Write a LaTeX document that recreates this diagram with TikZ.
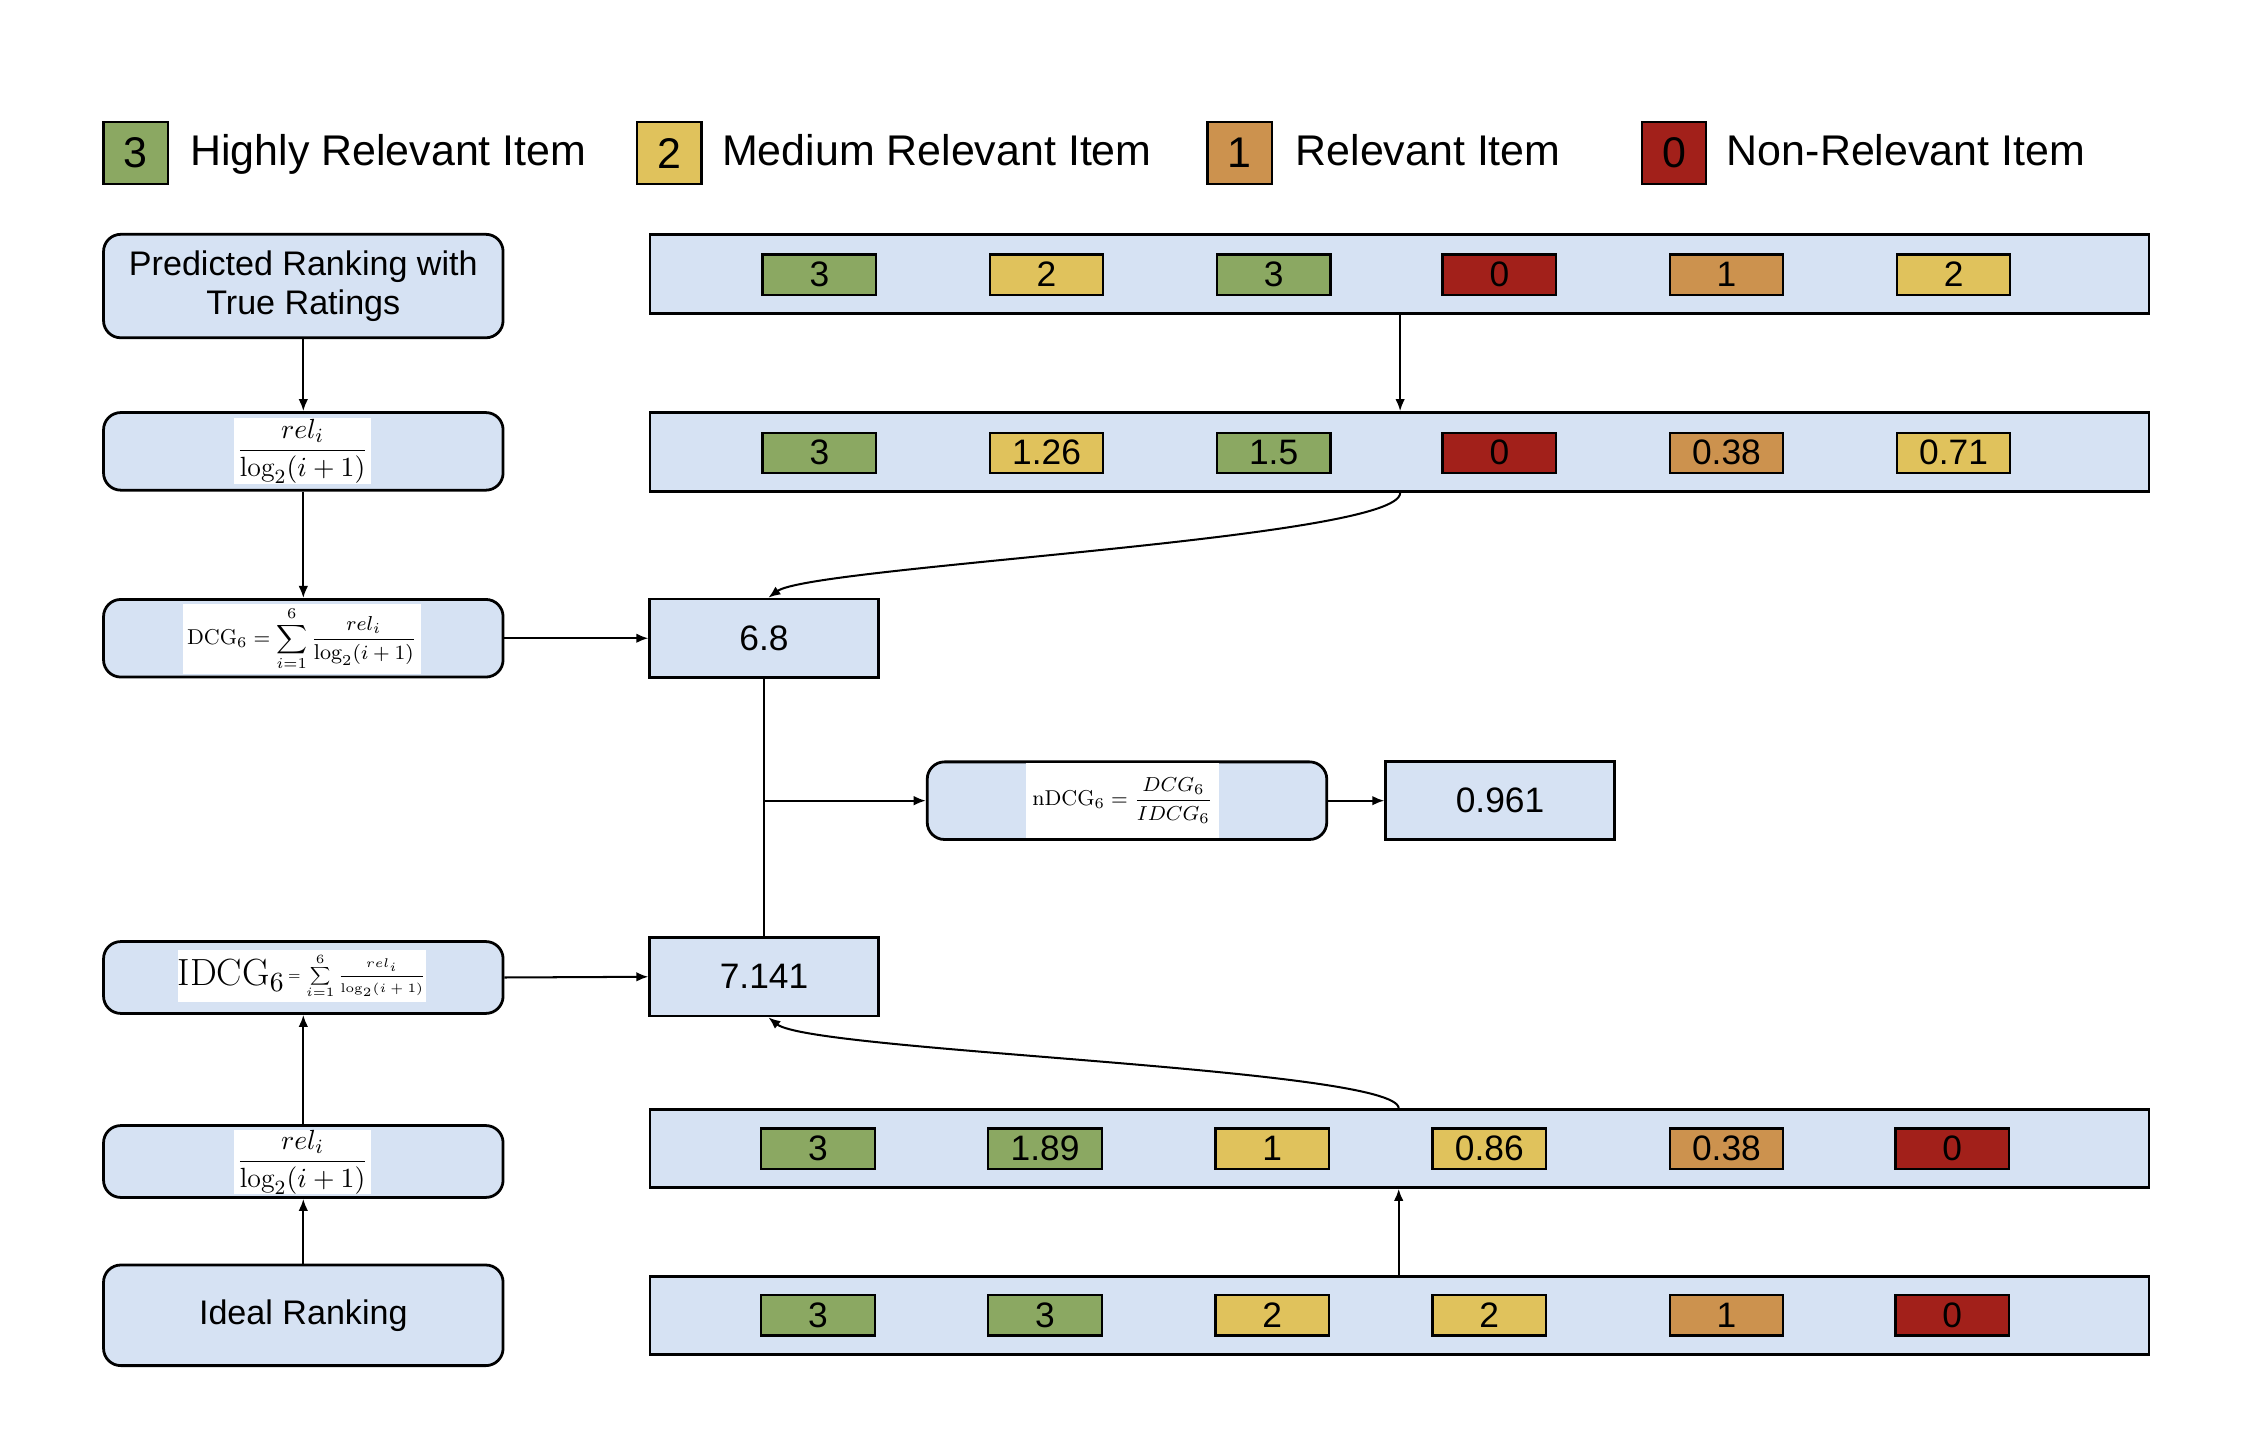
\documentclass[tikz,border=0pt]{standalone}
\usepackage{amsmath}
\usepackage{fontspec}
\setsansfont{Liberation Sans}
\usetikzlibrary{arrows.meta,calc}
\definecolor{boxblue}{HTML}{D6E2F3}
\definecolor{cgreen}{HTML}{8BA862}
\definecolor{cyellow}{HTML}{E0C25C}
\definecolor{corange}{HTML}{CC924E}
\definecolor{cred}{HTML}{A2201A}
\begin{document}
\begin{tikzpicture}[x=0.02cm,y=-0.02cm,font=\sffamily,
  lbox/.style={draw,line width=1.1pt,fill=boxblue,rounded corners=0.24cm,minimum width=5.56cm,align=center,inner sep=0pt,font=\sffamily\fontsize{13.5}{15.5}\selectfont},
  rowbox/.style={draw,line width=1.1pt,fill=boxblue,minimum width=20.86cm,minimum height=1.1cm,inner sep=0pt},
  valbox/.style={draw,line width=1.1pt,fill=boxblue,minimum width=3.18cm,minimum height=1.09cm,inner sep=0pt,font=\sffamily\fontsize{14}{16}\selectfont},
  cell/.style={draw,line width=0.9pt,minimum width=1.58cm,minimum height=0.56cm,inner sep=0pt,font=\sffamily\fontsize{14}{16}\selectfont},
  legbox/.style={draw,line width=0.9pt,minimum width=0.9cm,minimum height=0.86cm,inner sep=0pt,font=\sffamily\fontsize{17}{19}\selectfont},
  legtext/.style={anchor=base west,inner sep=0pt,font=\sffamily\fontsize{17}{19}\selectfont},
  formula/.style={fill=white,inner sep=0pt},
  arr/.style={-{Latex[length=4.8pt,width=3.8pt]},line width=0.8pt},
  conn/.style={line width=0.8pt}]
\useasboundingbox (0,0) rectangle (1568,999);

% legend
\node[legbox,fill=cgreen]  (lg3) at (94.5,106.5) {3};
\node[legtext] (lt3) at (132,115) {Highly Relevant Item};
\node[legbox,fill=cyellow] (lg2) at (465.5,106.5) {2};
\node[legtext] (lt2) at (502,115) {Medium Relevant Item};
\node[legbox,fill=corange] (lg1) at (862.5,106.5) {1};
\node[legtext] (lt1) at (901,115) {Relevant Item};
\node[legbox,fill=cred]    (lg0) at (1164.5,106.5) {0};
\node[legtext] (lt0) at (1201,115) {Non-Relevant Item};

% left column
\node[lbox,minimum height=1.44cm] (pred) at (211,199) {Predicted Ranking with\\True Ratings};
\node[lbox,minimum height=1.08cm] (rel1) at (211,314) {};
\node[formula,minimum width=1.9cm,minimum height=0.92cm] (f1) at (210.5,314) {\fontsize{11}{13}\selectfont$\dfrac{rel_i}{\log_2(i+1)}$};
\node[lbox,minimum height=1.08cm] (dcg) at (211,444) {};
\node[formula,minimum width=3.32cm,minimum height=0.98cm] (f2) at (210,444.5) {\fontsize{8.5}{10}\selectfont$\mathrm{DCG}_6=\displaystyle\sum_{i=1}^{6}\frac{rel_i}{\log_2(i+1)}$};
\node[lbox,minimum height=1.0cm] (idcg) at (211,680) {};
\node[formula,minimum width=3.16cm,minimum height=0.72cm] (f3) at (210,679) {\raisebox{-2.5pt}{\fontsize{15}{17}\selectfont$\mathrm{IDCG}_6$}\fontsize{5}{6}\selectfont$\,=\displaystyle\sum_{i=1}^{6}\frac{rel_i}{\log_2(i+1)}$};
\node[lbox,minimum height=1.0cm] (rel2) at (211,808) {};
\node[formula,minimum width=1.9cm,minimum height=0.86cm] (f4) at (210.5,808.5) {\fontsize{11}{13}\selectfont$\dfrac{rel_i}{\log_2(i+1)}$};
\node[lbox,minimum height=1.4cm] (ideal) at (211,915) {Ideal Ranking};

% rows
\node[rowbox] (row1) at (973.5,190.5) {};
\node[rowbox] (row2) at (973.5,314.5) {};
\node[rowbox,minimum height=1.08cm] (row3) at (973.5,799) {};
\node[rowbox,minimum height=1.08cm] (row4) at (973.5,915) {};

\foreach \x/\c/\t [count=\i] in {570/cgreen/3,728/cyellow/2,886/cgreen/3,1043/cred/0,1201/corange/1,1359/cyellow/2}
  \node[cell,fill=\c] (a\i) at (\x,191) {\t};
\foreach \x/\c/\t [count=\i] in {570/cgreen/3,728/cyellow/1.26,886/cgreen/1.5,1043/cred/0,1201/corange/0.38,1359/cyellow/0.71}
  \node[cell,fill=\c] (b\i) at (\x,315) {\t};
\foreach \x/\c/\t [count=\i] in {569/cgreen/3,727/cgreen/1.89,885/cyellow/1,1036/cyellow/0.86,1201/corange/0.38,1358/cred/0}
  \node[cell,fill=\c] (c\i) at (\x,799) {\t};
\foreach \x/\c/\t [count=\i] in {569/cgreen/3,727/cgreen/3,885/cyellow/2,1036/cyellow/2,1201/corange/1,1358/cred/0}
  \node[cell,fill=\c] (d\i) at (\x,915) {\t};

% values
\node[valbox] (v68) at (531.5,444) {6.8};
\node[valbox] (v7141) at (531.5,679.5) {7.141};
\node[lbox,minimum height=1.08cm] (ndcg) at (784,557) {};
\node[formula,minimum width=2.68cm,minimum height=1.04cm] (f5) at (781,557) {\fontsize{8.5}{10}\selectfont$\mathrm{nDCG}_6=\dfrac{DCG_6}{IDCG_6}$};
\node[valbox] (v961) at (1043.5,557) {0.961};

% connectors
\coordinate (ax) at (974,0);
\coordinate (bx) at (973,0);
\draw[arr] (pred.south) -- (rel1.north);
\draw[arr] (rel1.south) -- (dcg.north);
\draw[arr] (dcg.east) -- (v68.west);
\draw[arr] (idcg.east) -- (v7141.west);
\draw[arr] (rel2.north) -- (idcg.south);
\draw[arr] (ideal.north) -- (rel2.south);
\draw[arr] (row1.south -| ax) -- (row2.north -| ax);
\draw[arr] (row4.north -| bx) -- (row3.south -| bx);
\draw[arr] (row2.south -| ax) .. controls +(0,32) and +(30,-22) .. ($(v68.north)+(3,0)$);
\draw[arr] (row3.north -| bx) .. controls +(0,-28) and +(30,24) .. ($(v7141.south)+(3,0)$);
\draw[conn] (v68.south) -- (v7141.north);
\draw[arr] (v68.south |- ndcg.west) -- (ndcg.west);
\draw[arr] (ndcg.east) -- (v961.west);
\end{tikzpicture}
\end{document}
